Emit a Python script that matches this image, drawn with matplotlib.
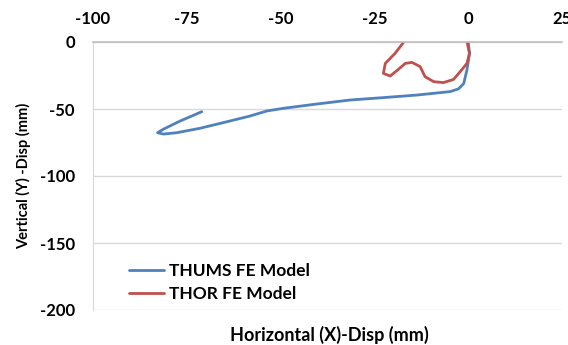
import matplotlib
matplotlib.use("Agg")
import matplotlib.pyplot as plt

plt.rcParams['font.family'] = ['Lato', 'DejaVu Sans']
plt.rcParams['axes.unicode_minus'] = False

# THUMS FE Model trajectory (mm)
thums_x = [0.0, 0.35, -0.35, -1.2, -2.6, -4.8, -13.7, -22.6, -31.5, -40.4,
           -49.3, -53.7, -58.1, -64.3, -71.5, -77.7, -81.2, -82.8, -81.2,
           -76.8, -71.0]
thums_y = [0.0, -8.5, -21.0, -31.0, -35.0, -37.0, -39.6, -41.5, -43.3, -46.3,
           -49.5, -51.5, -55.2, -59.5, -64.4, -67.7, -68.7, -67.7, -65.0,
           -59.0, -52.0]

# THOR FE Model trajectory (mm)
thor_x = [-0.3, 0.35, -0.35, -2.1, -3.9, -6.6, -9.2, -11.5, -12.8, -15.0,
          -16.8, -18.6, -20.8, -22.6, -22.1, -19.5, -17.3]
thor_y = [0.0, -8.5, -16.0, -22.0, -27.9, -30.3, -29.6, -25.9, -18.4, -15.2,
          -16.0, -20.4, -25.4, -23.4, -16.0, -8.5, -0.5]

x_ticks = [-100, -75, -50, -25, 0, 25]
y_ticks = [0, -50, -100, -150, -200]

fig = plt.figure(figsize=(5.68, 3.45), dpi=100)
ax = fig.add_axes([93/568, 1 - 310/345, (562 - 93)/568, (310 - 42)/345])

ax.plot(thums_x, thums_y, color='#4F81BD', lw=2.0, label='THUMS FE Model',
        solid_capstyle='round', solid_joinstyle='round')
ax.plot(thor_x, thor_y, color='#C0504D', lw=2.0, label='THOR FE Model',
        solid_capstyle='round', solid_joinstyle='round')

ax.set_xlim(-100, 25)
ax.set_ylim(-200, 0)
ax.set_xticks(x_ticks)
ax.set_yticks(y_ticks)
ax.xaxis.tick_top()
ax.tick_params(axis='x', length=0, pad=11, labelsize=12)
ax.tick_params(axis='y', length=0, pad=13, labelsize=12)
for lab in ax.get_xticklabels() + ax.get_yticklabels():
    lab.set_fontweight('bold')

ax.grid(axis='y', color='#D9D9D9', lw=1.0)
ax.set_axisbelow(True)
for s in ['right', 'bottom']:
    ax.spines[s].set_visible(False)
ax.spines['left'].set_color('#D9D9D9')
ax.spines['top'].set_color('#BFBFBF')
ax.spines['top'].set_linewidth(1.2)

ax.set_ylabel('Vertical (Y) -Disp (mm)', fontsize=10.5, fontweight='bold', labelpad=6)
fig.text(329/568, 1 - 335/345, 'Horizontal (X)-Disp (mm)', fontsize=13,
         fontweight='bold', ha='center', va='center')

leg = ax.legend(loc='upper left', bbox_to_anchor=(0.062, 0.2), frameon=False,
                prop={'size': 12.5, 'weight': 'bold'}, handlelength=2.0,
                handletextpad=0.3, labelspacing=0.4, borderaxespad=0)

fig.savefig('out.png', dpi=100)
